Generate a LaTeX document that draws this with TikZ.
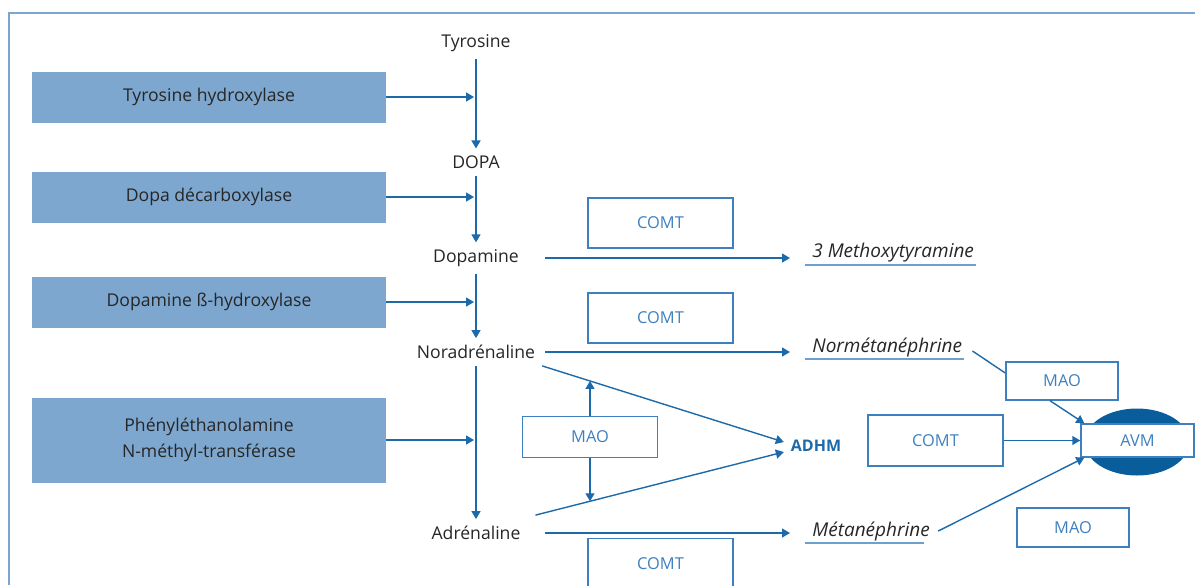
\documentclass[tikz,border=0pt]{standalone}
\usepackage{fontspec}
\setmainfont{Open Sans}
\usetikzlibrary{arrows.meta,shapes.geometric,intersections}
\definecolor{enzfill}{HTML}{7DA7CF}
\definecolor{linblue}{HTML}{1C6AAA}
\definecolor{boxblue}{HTML}{3E80BF}
\definecolor{avmblue}{HTML}{0A5D9B}
\definecolor{txtgray}{HTML}{262626}
\definecolor{framblue}{HTML}{7AA6CF}
\begin{document}
\begin{tikzpicture}[x=0.5pt,y=-0.5pt,
    enz/.style={fill=enzfill,text=txtgray,minimum width=177pt,minimum height=25.5pt,align=center,font=\fontsize{8.8}{13}\selectfont},
    met/.style={text=txtgray,font=\fontsize{8.8}{10}\selectfont},
    prod/.style={text=txtgray,font=\fontsize{9.5}{10}\selectfont\itshape,inner sep=1pt,anchor=west},
    ebox/.style={draw=boxblue,line width=0.7pt,text=boxblue,fill=white,inner sep=0pt,font=\fontsize{8.2}{10}\selectfont,minimum width=72.5pt,minimum height=25pt},
    arr/.style={draw=linblue,line width=0.7pt,-{Triangle[length=4pt,width=4.5pt]}},
    lin/.style={draw=linblue,line width=0.7pt},
    uline/.style={draw=boxblue!75,line width=0.8pt}]
    \useasboundingbox (0,0) rectangle (1195,585);
    \draw[framblue,line width=1pt] (9,585) -- (9,13) -- (1195,13);
    \coordinate (cstart) at (545,0);
    \coordinate (cend) at (790,0);

    % enzymes
    \node[enz] (th) at (209,97) {Tyrosine hydroxylase};
    \node[enz] (dd) at (209,197) {Dopa décarboxylase};
    \node[enz] (dbh) at (209,302) {Dopamine ß-hydroxylase};
    \node[enz,minimum height=42.5pt] (pnmt) at (209,440) {Phényléthanolamine\\N-méthyl-transférase};

    % main pathway
    \node[met] (tyr) at (476,43) {Tyrosine};
    \node[met] (dopa) at (476,162) {DOPA};
    \node[met] (dopamine) at (476,258) {Dopamine};
    \node[met] (norad) at (476,352) {Noradrénaline};
    \node[met] (adr) at (476,533) {Adrénaline};
    \draw[arr] (tyr) -- (dopa);
    \draw[arr] (dopa) -- (dopamine);
    \draw[arr] (dopamine) -- (norad);
    \draw[arr] (norad) -- (adr);
    \draw[arr] (th.east) -- ([xshift=-1pt]th.east -| tyr);
    \draw[arr] (dd.east) -- ([xshift=-1pt]dd.east -| tyr);
    \draw[arr] (dbh.east) -- ([xshift=-1pt]dbh.east -| tyr);
    \draw[arr] (pnmt.east) -- ([xshift=-1pt]pnmt.east -| tyr);

    % COMT
    \node[ebox] (comta) at (660.5,223) {COMT};
    \node[ebox] (comtb) at (660.5,318) {COMT};
    \node[ebox] (comtc) at (660.5,563.5) {COMT};
    \node[prod] (mt) at (810,253) {3 Methoxytyramine};
    \node[prod] (norm) at (810,347) {Normétanéphrine};
    \node[prod] (meta) at (810,531) {Métanéphrine};
    \draw[arr] (dopamine.east -| cstart) -- (dopamine.east -| cend);
    \draw[arr] (norad.east -| cstart) -- (norad.east -| cend);
    \draw[arr] (adr.east -| cstart) -- (adr.east -| cend);
    \draw[uline] ([xshift=-2.5pt,yshift=-3.5pt]mt.base west) -- ([yshift=-3.5pt]mt.base east);
    \draw[uline] ([xshift=-2.5pt,yshift=-3.5pt]norm.base west) -- ([yshift=-3.5pt]norm.base east);
    \draw[uline] ([xshift=-2.5pt,yshift=-3.5pt]meta.base west) -- ([xshift=-4pt,yshift=-3.5pt]meta.base east);

    % MAO -> ADHM
    \node[text=linblue,font=\fontsize{8}{10}\selectfont\bfseries] (adhm) at (816,446) {ADHM};
    \node[ebox,minimum width=67.5pt,minimum height=20.5pt] (maoa) at (590,437) {MAO};
    \draw[arr,name path=nad] (norad.south east) -- ([yshift=2pt]adhm.west);
    \draw[arr,name path=adad] ([xshift=4pt,yshift=2pt]adr.north east) -- ([yshift=-3pt]adhm.west);
    \path[name path=up] (maoa.north) -- ++(0,-80);
    \path[name path=dn] (maoa.south) -- ++(0,80);
    \draw[arr,name intersections={of=up and nad}] (maoa.north) -- (intersection-1);
    \draw[arr,name intersections={of=dn and adad}] (maoa.south) -- (intersection-1);

    % AVM
    \node[ebox,minimum width=56pt,minimum height=19pt] (maob) at (1062,381) {MAO};
    \node[ellipse,fill=avmblue,minimum width=52.5pt,minimum height=33.5pt] (avme) at (1137,442) {};
    \node[ebox,minimum width=56.5pt,minimum height=16.5pt] (avm) at (1137.5,440.5) {AVM};
    \node[ebox,minimum width=67.5pt,minimum height=25.5pt] (comtd) at (935.5,440.5) {COMT};
    \node[ebox,minimum width=56pt,minimum height=19.5pt] (maoc) at (1073,527.5) {MAO};
    \draw[lin] ([xshift=4pt,yshift=-2pt]norm.east) -- ([yshift=4pt]maob.west);
    \draw[arr] ([xshift=-6pt]maob.south) -- ([xshift=2pt]avm.north west);
    \draw[arr] (comtd.east) -- (avm.west);
    \draw[arr] ([xshift=3pt]meta.east) -- ([xshift=2pt]avm.south west);
\end{tikzpicture}
\end{document}
